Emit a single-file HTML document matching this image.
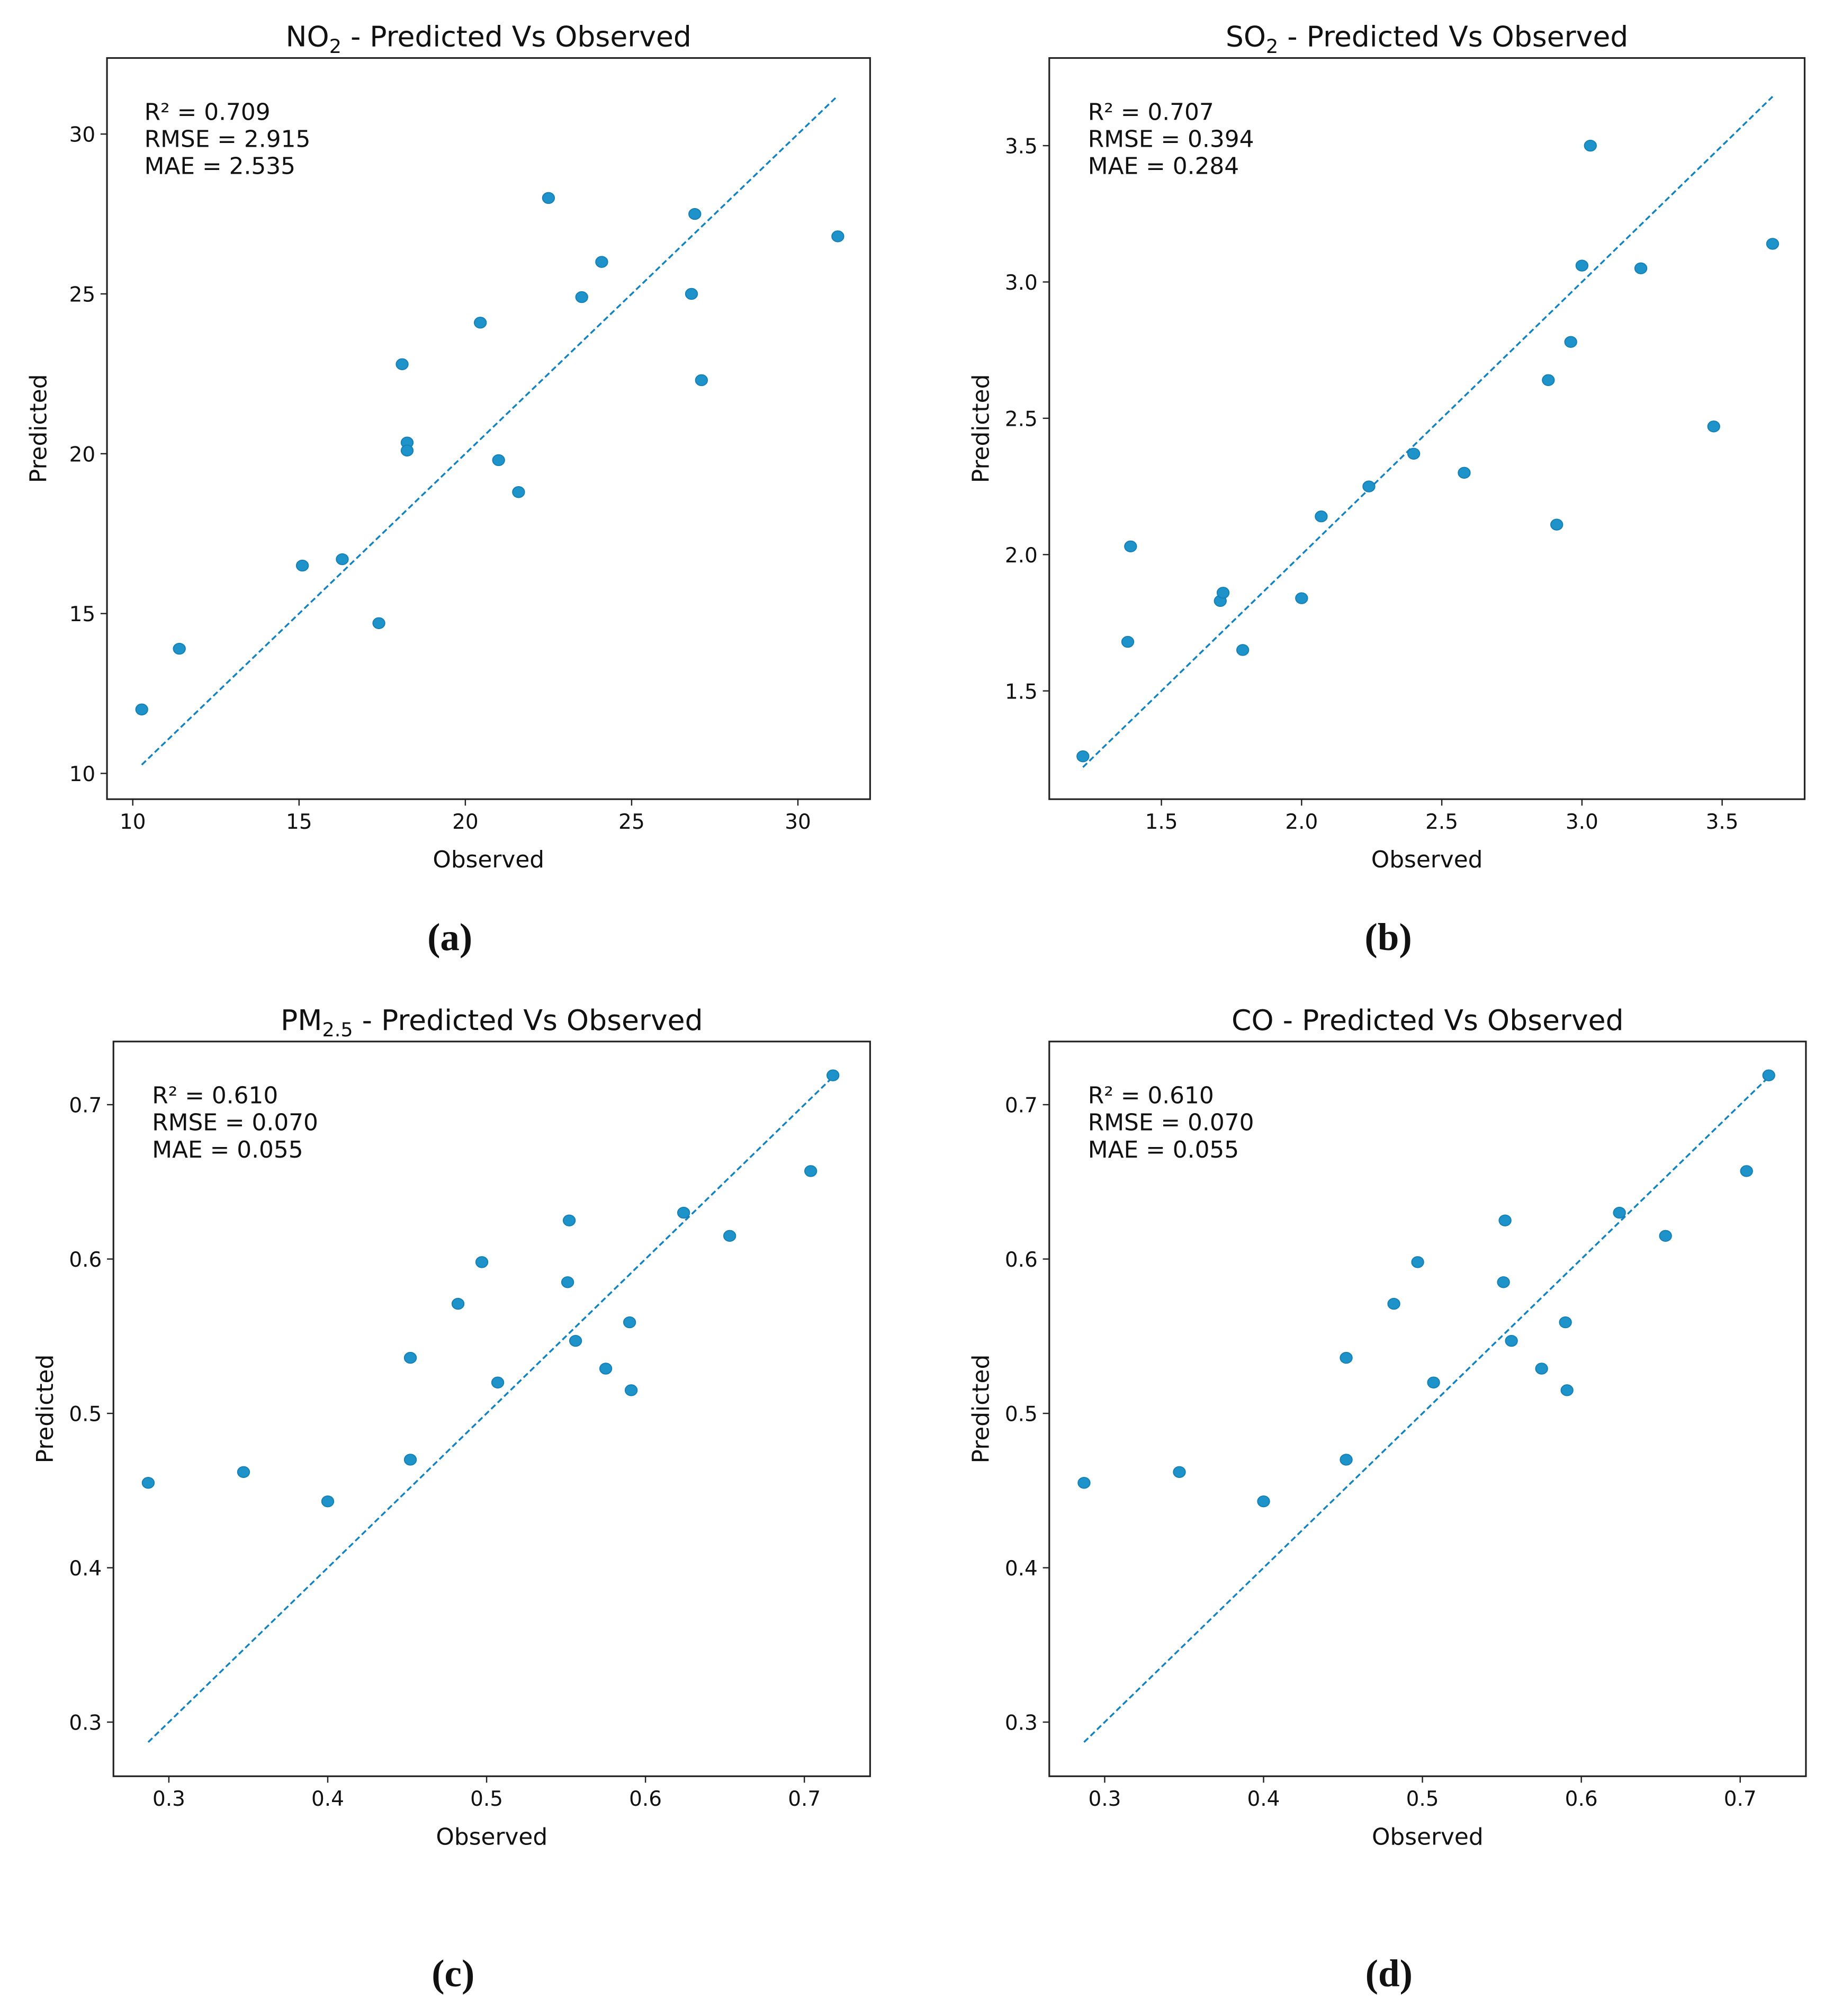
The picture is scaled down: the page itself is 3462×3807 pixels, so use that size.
<!DOCTYPE html>
<html><head><meta charset="utf-8"><style>
html,body{margin:0;padding:0;background:#fff;}
svg{display:block;}
text{font-family:"DejaVu Sans","Liberation Sans",sans-serif;fill:#111;}
.pl{font-family:"Liberation Serif",serif;font-weight:bold;}
</style></head><body>
<svg id="fig" width="3462" height="3807" viewBox="0 0 1422 1564" preserveAspectRatio="none" xmlns="http://www.w3.org/2000/svg"></svg>
<script>
// Panel (a) NO2
const no2Observed = [10.27,11.4,15.1,16.3,17.4,18.1,18.25,18.25,20.45,21.0,21.6,22.5,23.5,24.1,26.8,26.9,27.1,31.2];
const no2Predicted = [12.0,13.9,16.5,16.7,14.7,22.8,20.35,20.1,24.1,19.8,18.8,28.0,24.9,26.0,25.0,27.5,22.3,26.8];
const no2XTicks = [10,15,20,25,30];
const no2YTicks = [10,15,20,25,30];
const no2Stats = ["R² = 0.709","RMSE = 2.915","MAE = 2.535"];
// Panel (b) SO2
const so2Observed = [1.22,1.38,1.39,1.71,1.72,1.79,2.0,2.07,2.24,2.40,2.58,2.88,2.91,2.96,3.0,3.03,3.21,3.47,3.68];
const so2Predicted = [1.26,1.68,2.03,1.83,1.86,1.65,1.84,2.14,2.25,2.37,2.30,2.64,2.11,2.78,3.06,3.50,3.05,2.47,3.14];
const so2XTicks = ["1.5","2.0","2.5","3.0","3.5"];
const so2YTicks = ["1.5","2.0","2.5","3.0","3.5"];
const so2Stats = ["R² = 0.707","RMSE = 0.394","MAE = 0.284"];
// Panels (c),(d) PM2.5 / CO
const pmObserved = [0.287,0.347,0.40,0.452,0.452,0.482,0.497,0.507,0.551,0.552,0.556,0.575,0.590,0.591,0.624,0.653,0.704,0.718];
const pmPredicted = [0.455,0.462,0.443,0.536,0.470,0.571,0.598,0.520,0.585,0.625,0.547,0.529,0.559,0.515,0.630,0.615,0.657,0.719];
const pmXTicks = ["0.3","0.4","0.5","0.6","0.7"];
const pmYTicks = ["0.3","0.4","0.5","0.6","0.7"];
const pmStats = ["R² = 0.610","RMSE = 0.070","MAE = 0.055"];

const NS="http://www.w3.org/2000/svg";
const svg=document.getElementById('fig');
function mk(tag,attrs,parent){const e=document.createElementNS(NS,tag);for(const k in attrs)e.setAttribute(k,attrs[k]);(parent||svg).appendChild(e);return e;}

function panel(cfg){
  const g=mk('g',{});
  
  
  const f=cfg.frame;
  const xs=v=>cfg.xp0+(v-cfg.xv0)*(cfg.xp1-cfg.xp0)/(cfg.xv1-cfg.xv0);
  const ys=v=>cfg.yp0+(v-cfg.yv0)*(cfg.yp1-cfg.yp0)/(cfg.yv1-cfg.yv0);
  const fr=mk('rect',{x:f[0],y:f[1],width:f[2]-f[0],height:f[3]-f[1],fill:'none',stroke:'#222','stroke-width':1.3},g);
  
  
  cfg.xt.forEach(t=>{const v=parseFloat(t),x=xs(v);
    mk('line',{x1:x,x2:x,y1:f[3],y2:f[3]+5,stroke:'#222','stroke-width':1},g);
    const tx=mk('text',{x:x,y:f[3]+23,'font-size':16,'text-anchor':'middle'},g);tx.textContent=t;
    
    });
  cfg.yt.forEach(t=>{const v=parseFloat(t),y=ys(v);
    mk('line',{x1:f[0]-5,x2:f[0],y1:y,y2:y,stroke:'#222','stroke-width':1},g);
    const tx=mk('text',{x:f[0]-9,y:y+6,'font-size':16,'text-anchor':'end'},g);tx.textContent=t;
    
    });
  const mn=Math.min(...cfg.obs),mx=Math.max(...cfg.obs);
  const ln=mk('line',{x1:xs(mn),y1:ys(mn),x2:xs(mx),y2:ys(mx),stroke:'#1283c2','stroke-width':1.4,'stroke-dasharray':'4.5,2.5'},g);
  
  
  cfg.obs.forEach((o,i)=>{const c=mk('ellipse',{cx:xs(o),cy:ys(cfg.pred[i]),rx:4.6,ry:4.2,fill:'#1d93c9',stroke:'#1580b8','stroke-width':0.8},g);
    
    });
  cfg.stats.forEach((s,i)=>{const t=mk('text',{x:cfg.sx,y:f[1]+48+i*21,'font-size':18},g);t.textContent=s;
    
    });
  const cx=(f[0]+f[2])/2;
  const ti=mk('text',{x:cx,y:f[1]-9,'font-size':22,'text-anchor':'middle'},g);
  ti.innerHTML=cfg.title;
  
  
  const xl=mk('text',{x:cx,y:f[3]+53,'font-size':18,'text-anchor':'middle'},g);xl.textContent='Observed';
  
  
  const yy=(f[1]+f[3])/2;
  const yl=mk('text',{x:f[0]-47,y:yy,'font-size':18,'text-anchor':'middle',transform:`rotate(-90 ${f[0]-47} ${yy})`},g);yl.textContent='Predicted';
  
  
  const pl=mk('text',{x:cx-30,y:cfg.ly,'font-size':30,'text-anchor':'middle',class:'pl'},g);pl.textContent=cfg.label;
  
  
}
panel({name:'no2-panel',frame:[83,45,675,620],xv0:10,xv1:30,xp0:103,xp1:619,yv0:10,yv1:30,yp0:600,yp1:104,
  obs:no2Observed,pred:no2Predicted,xt:no2XTicks.map(String),yt:no2YTicks.map(String),stats:no2Stats,sx:112,
  title:'NO<tspan font-size="15" dy="5">2</tspan><tspan dy="-5"> - Predicted Vs Observed</tspan>',label:'(a)',ly:737});
panel({name:'so2-panel',frame:[814,45,1400,620],xv0:1.5,xv1:3.5,xp0:901,xp1:1336,yv0:1.5,yv1:3.5,yp0:536,yp1:113,
  obs:so2Observed,pred:so2Predicted,xt:so2XTicks,yt:so2YTicks,stats:so2Stats,sx:844,
  title:'SO<tspan font-size="15" dy="5">2</tspan><tspan dy="-5"> - Predicted Vs Observed</tspan>',label:'(b)',ly:737});
panel({name:'pm25-panel',frame:[88,808,675,1378],xv0:0.3,xv1:0.7,xp0:131,xp1:624,yv0:0.3,yv1:0.7,yp0:1336,yp1:857,
  obs:pmObserved,pred:pmPredicted,xt:pmXTicks,yt:pmYTicks,stats:pmStats,sx:118,
  title:'PM<tspan font-size="15" dy="5">2.5</tspan><tspan dy="-5"> - Predicted Vs Observed</tspan>',label:'(c)',ly:1541});
panel({name:'co-panel',frame:[814,808,1401,1378],xv0:0.3,xv1:0.7,xp0:857,xp1:1350,yv0:0.3,yv1:0.7,yp0:1336,yp1:857,
  obs:pmObserved,pred:pmPredicted,xt:pmXTicks,yt:pmYTicks,stats:pmStats,sx:844,
  title:'CO - Predicted Vs Observed',label:'(d)',ly:1541});
</script>
</body></html>
